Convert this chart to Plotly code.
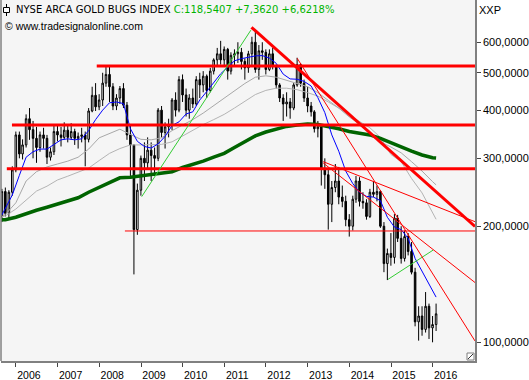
import pandas as pd
import plotly.graph_objects as go

# ---------------- data (monthly candles, Aug 2005 .. Jan 2016) ----------------
open_ = [
    212, 246, 216, 245, 280,
    345, 308, 325, 380, 356, 338, 320, 345, 338, 302, 312, 352,
    345, 340, 355, 340, 352, 338, 342, 345, 336, 398, 437, 408,
    425, 470, 495, 460, 410, 430, 455, 412, 345, 325, 196, 248,
    300, 292, 315, 305, 300, 400, 350, 362, 366, 425, 400, 480,
    438, 400, 430, 415, 480, 465, 490, 450, 505, 540, 560, 540,
    575, 505, 555, 560, 565, 535, 515, 560, 600, 510, 570, 565,
    510, 560, 520, 465, 430, 415, 420, 405, 465, 525, 470, 430,
    410, 396, 358, 362, 282, 272, 228, 252, 262, 238, 232, 208,
    200, 235, 262, 232, 230, 212, 245, 242, 246, 200, 160, 170,
    166, 210, 186, 165, 188, 172, 152, 113, 117, 108, 124, 109,
    111.18,
]
high = [
    250, 252, 248, 286, 352,
    352, 336, 390, 405, 375, 362, 352, 360, 345, 320, 365, 368,
    362, 372, 365, 370, 358, 350, 360, 352, 405, 460, 470, 440,
    500, 520, 518, 470, 440, 462, 470, 420, 365, 325, 258, 305,
    330, 340, 330, 320, 405, 410, 372, 380, 430, 445, 490, 495,
    455, 440, 455, 490, 500, 505, 495, 515, 545, 580, 605, 585,
    580, 565, 575, 600, 580, 545, 570, 620, 645, 590, 600, 575,
    575, 580, 525, 470, 440, 445, 430, 470, 547, 530, 480, 460,
    420, 400, 375, 365, 300, 280, 262, 290, 285, 255, 240, 215,
    240, 270, 268, 245, 235, 250, 262, 255, 248, 205, 175, 192,
    215, 214, 200, 195, 192, 182, 156, 124, 124, 135, 126, 117,
    126,
]
low = [
    205, 212, 210, 240, 276,
    300, 298, 320, 335, 300, 292, 312, 318, 290, 296, 306, 332,
    322, 336, 330, 335, 325, 318, 330, 286, 330, 395, 398, 400,
    410, 460, 420, 400, 400, 415, 405, 335, 270, 150, 190, 240,
    262, 280, 262, 270, 295, 340, 318, 340, 355, 385, 395, 420,
    385, 380, 405, 410, 430, 445, 430, 445, 495, 520, 525, 520,
    480, 495, 520, 530, 510, 480, 500, 520, 500, 480, 540, 495,
    505, 510, 455, 420, 375, 385, 380, 400, 460, 460, 420, 395,
    385, 350, 340, 255, 250, 196, 205, 245, 228, 224, 200, 188,
    195, 230, 225, 222, 208, 210, 238, 232, 198, 152, 145, 158,
    160, 182, 160, 162, 168, 150, 110, 101, 104, 106, 102, 100,
    107,
]
close = [
    246, 216, 245, 280, 345,
    308, 325, 380, 356, 338, 320, 345, 338, 302, 312, 352, 345,
    340, 355, 340, 352, 338, 342, 345, 336, 398, 437, 408, 425,
    470, 495, 460, 410, 430, 455, 412, 345, 325, 196, 248, 300,
    292, 315, 305, 300, 400, 350, 362, 366, 425, 400, 480, 438,
    400, 430, 415, 480, 465, 490, 450, 505, 540, 560, 540, 575,
    505, 555, 560, 565, 535, 515, 560, 600, 510, 570, 565, 510,
    560, 520, 465, 430, 415, 420, 405, 465, 525, 470, 430, 410,
    396, 358, 362, 282, 272, 228, 252, 262, 238, 232, 208, 200,
    235, 262, 232, 230, 212, 245, 242, 246, 200, 160, 170, 166,
    210, 186, 165, 188, 172, 152, 113, 117, 108, 124, 109, 111.18,
    118.54,
]

# moving averages
blue_ma = [214, 223, 241, 271, 302, 312, 317, 317, 326, 335, 337, 335, 337, 354,
           378, 400, 418, 420, 416, 358, 332, 322, 319, 327, 342, 365, 373, 391,
           396, 425, 447, 472, 497, 517, 537, 544, 549, 553, 554, 546, 529, 496,
           482, 481, 475, 462, 431, 394, 345, 313, 278, 258, 245, 239, 238, 233,
           211, 199, 196, 186, 165, 153, 142, 131]
green_ma = [208, 208, 211, 216, 220, 224, 228, 232, 237, 245, 252, 260, 267, 268,
            270, 272, 275, 277, 284, 289, 295, 302, 309, 320, 332, 343, 351, 357,
            363, 366, 368, 367, 363, 358, 352, 348, 345, 338, 330, 321, 313, 306,
            301, 300.5]
grey1_ma = [211.7, 214.5, 230, 262, 277, 285, 290, 295, 302, 317, 339, 348, 357,
            346, 336, 335, 339, 354, 366, 378, 393, 411, 431, 450, 469, 487, 491,
            487, 477, 469, 460, 444, 424, 405, 384, 368, 350, 331, 321, 310, 294,
            278, 261, 256]
grey2_ma = [211.7, 212.7, 221.6, 233.5, 246.7, 254, 263.6, 269.6, 276.6, 283, 296,
            309, 318, 325, 325, 325, 326, 331, 343, 355, 367, 378, 390, 405, 422,
            439, 450, 456, 456, 452, 444, 435, 420, 405, 388, 373, 360, 340, 307,
            294, 266, 244, 217.5, 208.5]

# horizontal support / resistance levels: (start date, level)
h_levels_thick = [("2007-12-10", 521), ("2005-11-27", 366), ("2005-10-13", 282)]
h_level_thin = ("2008-08-13", 194.4)

# trend lines: (start date, start value, end date, end value)
red_thick_line = ("2011-08-27", 656, "2017-01-06", 199.8)
red_thin_lines = [
    ("2012-10-01", 545, "2017-01-06", 100.8),
    ("2013-05-17", 294, "2017-01-06", 205.5),
    ("2013-05-17", 291.7, "2017-01-06", 142.9),
]
green_lines = [
    ("2009-01-07", 238.6, "2011-08-22", 645),
    ("2014-12-07", 145.7, "2016-01-06", 173.5),
]

year_ticks = list(range(2006, 2017))
price_ticks = [100, 200, 300, 400, 500, 600]

# ---------------- build ----------------
months = pd.date_range("2005-08-31", periods=len(close), freq=pd.offsets.MonthEnd(1))
first = [pd.Timestamp("2005-08-31")]
blue_dates = first + list(pd.date_range("2005-09-30", periods=len(blue_ma) - 1,
                                        freq=pd.offsets.MonthEnd(2)))
q_dates = first + list(pd.date_range("2005-09-30", periods=len(green_ma) - 2,
                                     freq=pd.offsets.MonthEnd(3))) + [pd.Timestamp("2016-01-31")]

X_END = "2017-01-06"
fig = go.Figure()

fig.add_trace(go.Candlestick(
    x=months, open=open_, high=high, low=low, close=close,
    increasing=dict(line=dict(color="black", width=1), fillcolor="white"),
    decreasing=dict(line=dict(color="black", width=1), fillcolor="black"),
    whiskerwidth=0, showlegend=False, hoverinfo="skip"))

def line(x, y, color, width):
    fig.add_trace(go.Scatter(x=x, y=y, mode="lines", showlegend=False,
                             hoverinfo="skip", line=dict(color=color, width=width)))

line(q_dates, grey2_ma, "#b4b4b4", 1)
line(q_dates, grey1_ma, "#a8a8a8", 1)
line(q_dates, green_ma, "#006400", 3.5)
line(blue_dates, blue_ma, "#0000ff", 1)

for d, v in h_levels_thick:
    line([d, X_END], [v, v], "#ff0000", 3)
line([h_level_thin[0], X_END], [h_level_thin[1]] * 2, "#ff0000", 1)

for d0, v0, d1, v1 in green_lines:
    line([d0, d1], [v0, v1], "#33cc33", 1)
for d0, v0, d1, v1 in red_thin_lines:
    line([d0, d1], [v0, v1], "#ff0000", 1)
d0, v0, d1, v1 = red_thick_line
line([d0, d1], [v0, v1], "#ff0000", 3)

# ---------------- layout ----------------
W, H = 529, 380
L, R, T, B = 1, 54, 0, 19
PW, PH = W - L - R, H - T - B

def px(x):
    return (x - L) / PW

def py(y):
    return 1 - (y - T) / PH

FONT = "Liberation Sans, Arial, sans-serif"
TFONT = "DejaVu Sans, Verdana, sans-serif"

fig.update_layout(
    width=W, height=H,
    margin=dict(l=L, r=R, t=T, b=B),
    paper_bgcolor="white", plot_bgcolor="#f5f5f5",
    font=dict(family=FONT, size=10, color="black"),
    hovermode=False,
    xaxis=dict(
        type="date", range=["2005-08-23", X_END],
        tickvals=[f"{y}-01-01" for y in year_ticks],
        ticktext=[str(y) for y in year_ticks],
        ticks="outside", ticklen=4, tickcolor="#444", tickwidth=1,
        ticklabelshift=13,
        showgrid=False, zeroline=False,
        showline=True, linecolor="#808080", linewidth=1.5,
        rangeslider=dict(visible=False),
        tickfont=dict(family=FONT, size=10.5, color="black"),
    ),
    yaxis=dict(
        type="log", side="right", range=[1.9515, 2.8877],
        tickvals=price_ticks,
        ticktext=[f"{v},0000" for v in price_ticks],
        ticks="outside", ticklen=4, tickcolor="#444", tickwidth=1,
        showgrid=False, zeroline=False,
        showline=True, linecolor="#808080", linewidth=1.5,
        tickfont=dict(family=FONT, size=11, color="black"),
    ),
    shapes=[
        dict(type="line", xref="paper", yref="paper", x0=0, x1=0, y0=0, y1=1,
             line=dict(color="#808080", width=1.5)),
        # small candle icon in front of the title
        dict(type="line", xref="paper", yref="paper", x0=px(6.5), x1=px(6.5),
             y0=py(4), y1=py(16), line=dict(color="black", width=1)),
        dict(type="rect", xref="paper", yref="paper", x0=px(3.5), x1=px(9.5),
             y0=py(7.5), y1=py(12.5), fillcolor="white",
             line=dict(color="black", width=1)),
        # resize grip in the corner
        dict(type="rect", xref="paper", yref="paper", x0=px(467), x1=px(474),
             y0=py(360), y1=py(353), fillcolor="white",
             line=dict(color="#808080", width=1)),
        dict(type="line", xref="paper", yref="paper", x0=px(468), x1=px(473),
             y0=py(359), y1=py(354), line=dict(color="#333", width=1)),
    ],
    annotations=[
        dict(xref="paper", yref="paper", x=px(14), y=py(10), xanchor="left",
             yanchor="middle", showarrow=False,
             text="NYSE ARCA GOLD BUGS INDEX <span style='color:#00b400'>C:118,5407 +7,3620 +6,6218%</span>",
             font=dict(family=TFONT, size=10, color="black")),
        dict(xref="paper", yref="paper", x=px(3), y=py(26), xanchor="left",
             yanchor="middle", showarrow=False,
             text="© www.tradesignalonline.com",
             font=dict(family=FONT, size=10.5, color="black")),
        dict(xref="paper", yref="paper", x=px(477), y=py(10), xanchor="left",
             yanchor="middle", showarrow=False, text="XXP",
             font=dict(family=FONT, size=11, color="black")),
    ],
)

fig.write_html(
    "out.html",
    config={"displayModeBar": False},
    post_script="document.body.style.margin='0px';document.body.style.padding='0px';",
)
